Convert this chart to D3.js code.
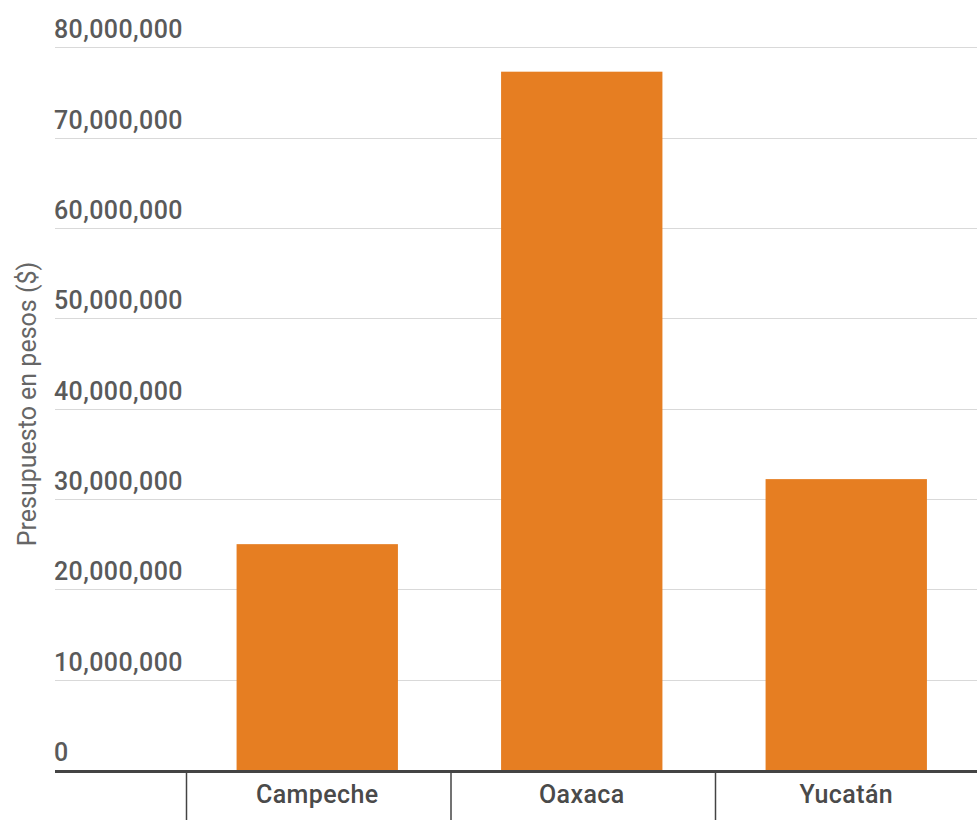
<!DOCTYPE html>
<html lang="es">
<head>
    <meta charset="UTF-8">
    <title>Presupuesto por estado</title>
    <script src="https://d3js.org/d3.v7.min.js"></script>
    <style>
        body{
            margin: 0;
            background: #fff;
        }
        svg{
            display: block;
            font-family: Roboto, sans-serif;
        }
        .ylab{
            font-size: 25px;
            font-weight: 500;
            letter-spacing: 0.4px;
            fill: #5a5a5a;
        }
        .xlab{
            font-size: 25px;
            font-weight: 500;
            letter-spacing: 0.4px;
            fill: #4a4a4a;
        }
        .title{
            font-size: 25px;
            font-weight: 400;
            fill: #666;
        }
    </style>
</head>
<body>
    <script>
        // data
        const estados = ["Campeche", "Oaxaca", "Yucatán"]
        const presupuesto = [25000000, 77300000, 32200000]
        const yTicks = [0, 10000000, 20000000, 30000000, 40000000, 50000000, 60000000, 70000000, 80000000]

        const size = {width:977, height:822}
        const plot = {left:55, right:977, top:47.3, bottom:770}

        const svg = d3.select("body")
                        .append("svg")
                        .attr("width", size.width)
                        .attr("height", size.height)

        const yScale = d3.scaleLinear()
                            .domain([0, 80000000])
                            .range([plot.bottom, plot.top])

        // bands for the categories, ticks sit on the band edges
        const xScale = d3.scaleBand()
                            .domain(estados)
                            .range([186.5, 980])
        const bw = xScale.bandwidth()
        const barW = bw * 0.61

        const fmt = d3.format(",")

        // gridlines + labels
        const grid = svg.append("g")
        grid.selectAll("line")
            .data(yTicks.filter(d => d > 0))
            .enter()
            .append("line")
            .attr("x1", plot.left)
            .attr("x2", plot.right)
            .attr("y1", d => Math.round(yScale(d)) + 0.5)
            .attr("y2", d => Math.round(yScale(d)) + 0.5)
            .attr("stroke", "#d9d9d9")
            .attr("stroke-width", 1)

        grid.selectAll("text")
            .data(yTicks)
            .enter()
            .append("text")
            .attr("class", "ylab")
            .attr("x", plot.left - 1)
            .attr("y", d => yScale(d) - 9)
            .text(d => fmt(d))

        // bars
        svg.append("g")
            .selectAll("rect")
            .data(estados)
            .enter()
            .append("rect")
            .attr("x", d => xScale(d) + (bw - barW) / 2 - 1.5)
            .attr("width", barW)
            .attr("y", (d, i) => yScale(presupuesto[i]))
            .attr("height", (d, i) => yScale(0) - yScale(presupuesto[i]))
            .attr("fill", "#e67e22")

        // baseline
        svg.append("line")
            .attr("x1", plot.left)
            .attr("x2", plot.right)
            .attr("y1", plot.bottom + 1.5)
            .attr("y2", plot.bottom + 1.5)
            .attr("stroke", "#444")
            .attr("stroke-width", 3)

        // category ticks on band edges
        svg.append("g")
            .selectAll("line")
            .data(estados)
            .enter()
            .append("line")
            .attr("x1", d => xScale(d))
            .attr("x2", d => xScale(d))
            .attr("y1", plot.bottom)
            .attr("y2", 820)
            .attr("stroke", "#444")
            .attr("stroke-width", 1.5)

        svg.append("g")
            .selectAll("text")
            .data(estados)
            .enter()
            .append("text")
            .attr("class", "xlab")
            .attr("x", d => xScale(d) + bw / 2 - 1.5)
            .attr("y", 803)
            .attr("text-anchor", "middle")
            .text(d => d)

        // y axis title
        svg.append("text")
            .attr("class", "title")
            .attr("transform", "translate(36," + 404 + ") rotate(-90)")
            .attr("text-anchor", "middle")
            .text("Presupuesto en pesos ($)")
    </script>
</body>
</html>
